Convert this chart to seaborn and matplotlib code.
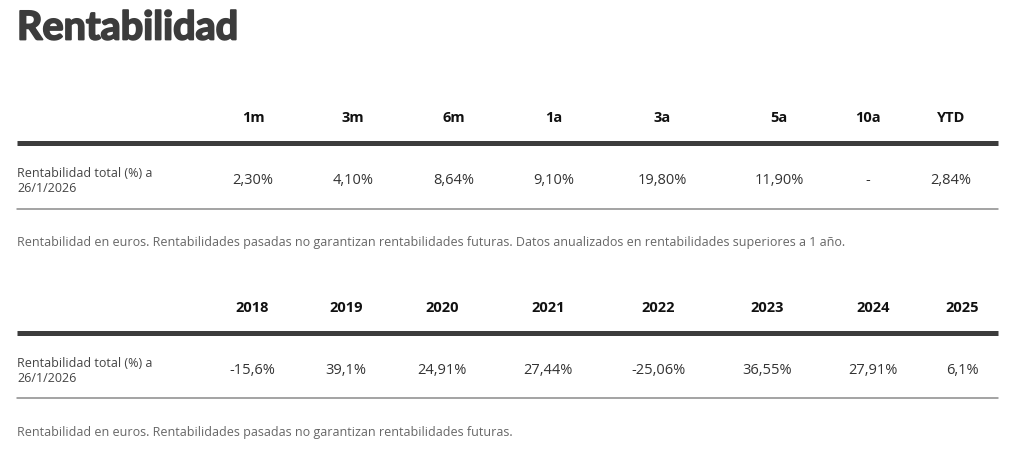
import matplotlib
matplotlib.use("Agg")
import matplotlib.pyplot as plt
import matplotlib.patheffects as pe
import seaborn as sns

# data
title = "Rentabilidad"
row_label = "Rentabilidad total (%) a\n26/1/2026"

periods = ["1m", "3m", "6m", "1a", "3a", "5a", "10a", "YTD"]
period_returns = ["2,30%", "4,10%", "8,64%", "9,10%", "19,80%", "11,90%", "-", "2,84%"]
note_periods = ("Rentabilidad en euros. Rentabilidades pasadas no garantizan "
                "rentabilidades futuras. Datos anualizados en rentabilidades "
                "superiores a 1 año.")

years = ["2018", "2019", "2020", "2021", "2022", "2023", "2024", "2025"]
year_returns = ["-15,6%", "39,1%", "24,91%", "27,44%", "-25,06%", "36,55%", "27,91%", "6,1%"]
note_years = ("Rentabilidad en euros. Rentabilidades pasadas no garantizan "
              "rentabilidades futuras.")

# layout (pixel coords)
cols_periods = [253, 353, 454, 554, 662, 779, 868, 951]
cols_years = [252, 346, 442, 548, 658, 767, 873, 962]
left, right = 17, 998

sns.set_theme(style="white")
plt.rcParams["font.family"] = ["Open Sans", "DejaVu Sans"]

fig = plt.figure(figsize=(10.24, 4.56), dpi=100)
ax = fig.add_axes([0, 0, 1, 1])
ax.set_xlim(0, 1024)
ax.set_ylim(456, 0)
ax.axis("off")

# heavy title: bold face thickened with a stroke
ax.text(left, 29, title, fontsize=28.5, fontweight="bold", color="#3c3c3c",
        va="center", ha="left", family=["Lato", "DejaVu Sans"],
        path_effects=[pe.withStroke(linewidth=1.3, foreground="#3c3c3c")])


def draw_table(y0, headers, values, cols, note):
    for c, h in zip(cols, headers):
        ax.text(c, y0, h, fontsize=10.5, fontweight="bold", color="#111111",
                ha="center", va="center")
    ax.plot([left, right], [y0 + 26, y0 + 26], color="#3c3c3c", lw=3.6,
            solid_capstyle="butt")
    ax.text(left, y0 + 63, row_label, fontsize=9, color="#444444",
            ha="left", va="center", linespacing=1.25)
    for c, v in zip(cols, values):
        ax.text(c, y0 + 63, v, fontsize=10.5, color="#333333",
                ha="center", va="center")
    ax.plot([left, right], [y0 + 91.5, y0 + 91.5], color="#8a8a8a", lw=1.1)
    ax.text(left, y0 + 125, note, fontsize=9, color="#666666",
            ha="left", va="center")


draw_table(118, periods, period_returns, cols_periods, note_periods)
draw_table(308, years, year_returns, cols_years, note_years)

fig.savefig("out.png", dpi=100, facecolor="white")
